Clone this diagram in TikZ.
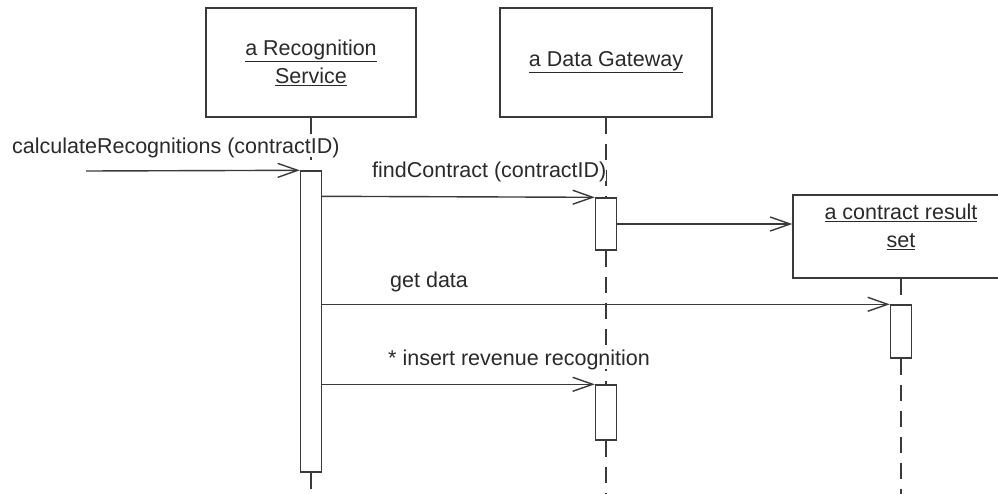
\documentclass[tikz,border=0pt]{standalone}
\usepackage{fontspec}
\setmainfont{Liberation Sans}
\usetikzlibrary{arrows.meta,calc}
\definecolor{ln}{HTML}{3A3A3A}
\definecolor{txt}{HTML}{2A2A2A}
\begin{document}
\begin{tikzpicture}[x=1pt,y=-1pt,
  obj/.style={draw=ln, line width=1.4pt, fill=white, align=center, inner sep=0pt,
    font=\fontsize{21.5}{28}\selectfont, text=txt},
  act/.style={draw=ln, fill=white, line width=1.4pt, minimum width=21pt, inner sep=0pt},
  msg/.style={draw=ln, line width=1.4pt, -{Straight Barb[length=20pt,width=14pt,line width=1.4pt]}},
  life/.style={draw=ln, line width=1.4pt, dash pattern=on 16pt off 10pt},
  lbl/.style={text=txt, fill=white, font=\fontsize{21.5}{25}\selectfont, inner sep=0pt, anchor=base west}]
\useasboundingbox (0,0) rectangle (998,493);
% objects
\node[obj, minimum width=210pt, minimum height=109pt] (rs) at (311,62.5) {\underline{a Recognition}\\\underline{Service}};
\node[obj, minimum width=212pt, minimum height=109pt] (dg) at (606,62.5) {\underline{a Data Gateway}};
\node[obj, minimum width=216pt, minimum height=83pt] (cr) at (901,236.5) {\underline{a contract result}\\\underline{set}\\[-6pt]\mbox{}};
% end points of lifelines
\coordinate (rsend) at (311,496);
\coordinate (dgend) at (606,496);
\coordinate (crend) at (901,496);
\coordinate (start) at (86,171);
% activation bars
\node[act, minimum height=301pt] (rsa) at (311,321.5) {};
\node[act, minimum height=52pt] (dg1) at (606,224) {};
\node[act, minimum height=55pt] (dg2) at (606,412.5) {};
\node[act, minimum height=53pt] (cra) at (901,331.5) {};
% lifelines
\draw[life] (rs.south) -- (rsa.north);
\draw[life] (rsa.south) -- (rsend);
\draw[life] (dg.south) -- (dg1.north);
\draw[life] (dg1.south) -- (dg2.north);
\draw[life] (dg2.south) -- (dgend);
\draw[life] (cr.south) -- (cra.north);
\draw[life] (cra.south) -- (crend);
% messages
\draw[msg] (start) -- (rsa.north west);
\draw[msg] ($(rsa.north east)+(0,26)$) -- (dg1.north west);
\draw[msg] (dg1.east) -- (dg1.east -| cr.west);
\draw[msg] (rsa.east |- cra.north) -- (cra.north west);
\draw[msg] (rsa.east |- dg2.north) -- (dg2.north west);
% labels
\node[lbl] (l1) at (12,153) {calculateRecognitions (contractID)};
\node[lbl] (l2) at (372,177) {findContract (contractID)};
\node[lbl] (l3) at (390,287) {get data};
\node[lbl] (l4) at (388,365) {* insert revenue recognition};
\end{tikzpicture}
\end{document}
